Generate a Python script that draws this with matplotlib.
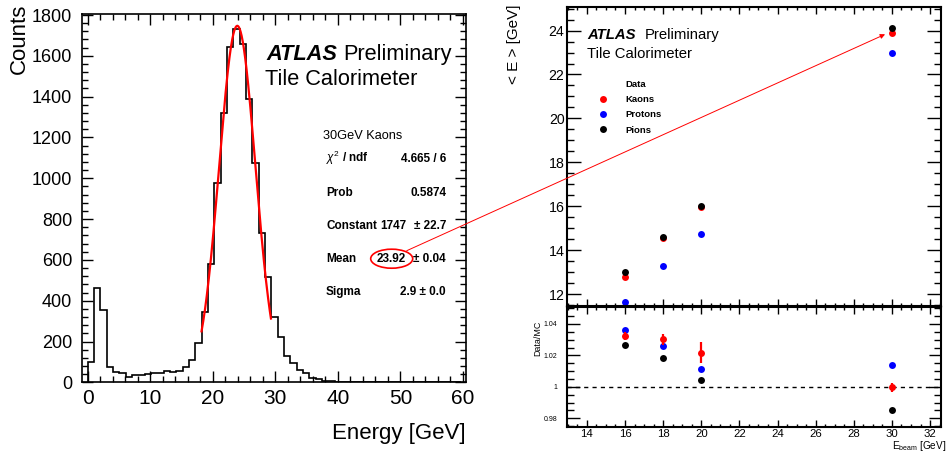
import numpy as np
import matplotlib
matplotlib.use('Agg')
import matplotlib.pyplot as plt
from matplotlib.patches import Ellipse, ConnectionPatch
from matplotlib.lines import Line2D
from matplotlib.ticker import MultipleLocator

plt.rcParams['font.family'] = ['Liberation Sans', 'DejaVu Sans']
plt.rcParams['mathtext.fontset'] = 'custom'
plt.rcParams['mathtext.rm'] = 'Liberation Sans'
plt.rcParams['mathtext.it'] = 'Liberation Sans:italic'
plt.rcParams['mathtext.bf'] = 'Liberation Sans:bold'

# energy histogram, 30 GeV kaons
bin_width = 1.013
counts = [100, 460, 355, 77, 49, 44, 28, 38, 36, 41, 47, 47, 54, 51, 57, 74,
          108, 195, 344, 579, 975, 1319, 1643, 1729, 1656, 1386, 1075, 731,
          517, 319, 224, 131, 93, 61, 47, 23, 15, 8, 5, 2, 1]
counts = counts + [0] * (59 - len(counts))

# gaussian fit result
fit_const = 1747
fit_mean = 23.92
fit_sigma = 2.9
fit_range = (18.2, 29.3)

# mean energy vs beam energy
ebeam = [16, 18, 20, 30]
e_kaons = [12.77, 14.53, 15.98, 23.91]
e_protons = [11.64, 13.28, 14.72, 22.97]
e_pions = [13.02, 14.58, 16.00, 24.10]

# data / MC
r_kaons = [1.0325, 1.0302, 1.0217, 0.9996]
r_kaons_err = [0.0025, 0.0037, 0.0066, 0.0026]
r_protons = [1.0363, 1.0257, 1.0111, 1.0136]
r_pions = [1.0268, 1.0181, 1.0041, 0.9852]

fig = plt.figure(figsize=(9.47, 4.54), dpi=100)

# ---------------- left: histogram ----------------
ax1 = fig.add_axes([0.0863, 0.1579, 0.4058, 0.8113])
edges = np.arange(len(counts) + 1) * bin_width
ax1.stairs(counts, edges, color='black', lw=1.2)
xf = np.linspace(fit_range[0], fit_range[1], 200)
ax1.plot(xf, fit_const * np.exp(-0.5 * ((xf - fit_mean) / fit_sigma) ** 2), color='red', lw=1.6)
ax1.set_xlim(-0.96, 60.5)
ax1.set_ylim(0, 1805)
ax1.xaxis.set_major_locator(MultipleLocator(10))
ax1.xaxis.set_minor_locator(MultipleLocator(2))
ax1.yaxis.set_major_locator(MultipleLocator(200))
ax1.yaxis.set_minor_locator(MultipleLocator(40))
ax1.tick_params(which='both', direction='in', top=True, right=True, width=1)
ax1.tick_params(which='major', length=7.7)
ax1.tick_params(which='minor', length=4)
ax1.tick_params(axis='x', labelsize=15, pad=5)
ax1.tick_params(axis='y', labelsize=13, pad=7)
for s in ax1.spines.values():
    s.set_linewidth(1.2)

fig.text(19 / 947, 1 - 4 / 454, 'Counts', rotation=90, ha='center', va='top', fontsize=16)
fig.text(466 / 947, 1 - 434 / 454, 'Energy [GeV]', ha='right', va='center', fontsize=16)

ax1.text(0.4814, 0.875, 'ATLAS', transform=ax1.transAxes, fontsize=15.7,
         fontweight='bold', fontstyle='italic', va='baseline')
ax1.text(0.680, 0.875, 'Preliminary', transform=ax1.transAxes, fontsize=15.7, va='baseline')
ax1.text(0.477, 0.807, 'Tile Calorimeter', transform=ax1.transAxes, fontsize=15.7, va='baseline')

# fit statistics
xl, xr = 0.6357, 0.948
ax1.text(0.6287, 0.6614, '30GeV Kaons', transform=ax1.transAxes, fontsize=9.2, va='baseline')
rows = [
    (0.5973, r'$\chi^2$ / ndf', '4.665 / 6'),
    (0.5058, 'Prob', '0.5874'),
    (0.4154, 'Constant', u'\u00b1 22.7'),
    (0.3258, 'Mean', u'\u00b1 0.04'),
    (0.2378, 'Sigma', u'%.1f \u00b1 0.0' % fit_sigma),
]
for y, name, val in rows:
    ax1.text(xl, y, name, transform=ax1.transAxes, fontsize=8.5, fontweight='bold', va='baseline')
    ax1.text(xr, y, val, transform=ax1.transAxes, fontsize=8.5, fontweight='bold', va='baseline', ha='right')
ax1.text(0.778, 0.4154, str(fit_const), transform=ax1.transAxes, fontsize=8.5, fontweight='bold', va='baseline')
ax1.text(0.8066, 0.3258, '%.2f' % fit_mean, transform=ax1.transAxes, fontsize=8.5, fontweight='bold',
         va='baseline', ha='center')
ax1.add_patch(Ellipse((0.8066, 0.3356), 0.1093, 0.0516, transform=ax1.transAxes,
                      fill=False, edgecolor='red', lw=1.2))

# ---------------- right top: <E> vs Ebeam ----------------
ax2 = fig.add_axes([0.599, 0.3267, 0.3946, 0.6572])
ax3 = fig.add_axes([0.599, 0.0601, 0.3946, 0.2630], sharex=ax2)

ms = 5
ax2.plot(ebeam, e_protons, 'o', color='blue', ms=ms, mec='none')
ax2.plot(ebeam, e_kaons, 'o', color='red', ms=ms, mec='none')
ax2.plot(ebeam, e_pions, 'o', color='black', ms=ms, mec='none')
ax2.set_xlim(12.97, 32.57)
ax2.set_ylim(11.47, 25.06)
ax2.xaxis.set_major_locator(MultipleLocator(2))
ax2.xaxis.set_minor_locator(MultipleLocator(0.5))
ax2.yaxis.set_major_locator(MultipleLocator(2))
ax2.yaxis.set_minor_locator(MultipleLocator(0.5))
ax2.tick_params(which='both', direction='in', top=True, right=True, width=1)
ax2.tick_params(axis='y', which='major', length=10)
ax2.tick_params(axis='y', which='minor', length=5)
ax2.tick_params(axis='x', which='major', length=5)
ax2.tick_params(axis='x', which='minor', length=2.5)
ax2.tick_params(axis='y', labelsize=10.2, pad=2)
ax2.tick_params(axis='x', labelbottom=False)
for s in ax2.spines.values():
    s.set_linewidth(1.5)

ax2.text(0.0527, 0.8928, 'ATLAS', transform=ax2.transAxes, fontsize=10.7,
         fontweight='bold', fontstyle='italic', va='baseline')
ax2.text(0.208, 0.8928, 'Preliminary', transform=ax2.transAxes, fontsize=10.7, va='baseline')
ax2.text(0.0527, 0.829, 'Tile Calorimeter', transform=ax2.transAxes, fontsize=10.7, va='baseline')

handles = [Line2D([], [], ls='none'),
           Line2D([], [], ls='none', marker='o', color='red', ms=ms, mec='none'),
           Line2D([], [], ls='none', marker='o', color='blue', ms=ms, mec='none'),
           Line2D([], [], ls='none', marker='o', color='black', ms=ms, mec='none')]
ax2.legend(handles, ['Data', 'Kaons', 'Protons', 'Pions'], loc='upper left',
           bbox_to_anchor=(0.0747, 0.756), frameon=False, borderpad=0, borderaxespad=0,
           handlelength=1.6, handletextpad=1.6, labelspacing=0.65,
           prop={'size': 6.8, 'weight': 'bold'})

fig.text(514 / 947, 1 - 4 / 454, '< E > [GeV]', rotation=90, ha='center', va='top', fontsize=11)

# ---------------- right bottom: Data/MC ----------------
ax3.axhline(1.0, color='black', lw=1, ls=(0, (3, 3)))
ax3.plot(ebeam, r_protons, 'o', color='blue', ms=ms, mec='none')
ax3.errorbar(ebeam, r_kaons, yerr=r_kaons_err, fmt='o', color='red', ms=ms, mec='none',
             elinewidth=1.6, capsize=0)
ax3.plot(ebeam, r_pions, 'o', color='black', ms=ms, mec='none')
ax3.set_ylim(0.9746, 1.0506)
ax3.yaxis.set_major_locator(MultipleLocator(0.02))
ax3.yaxis.set_minor_locator(MultipleLocator(0.005))
ax3.yaxis.set_major_formatter(matplotlib.ticker.FuncFormatter(lambda v, p: ('%.2f' % v).rstrip('0').rstrip('.')))
ax3.tick_params(which='both', direction='in', top=True, right=True, width=1)
ax3.tick_params(axis='y', which='major', length=9)
ax3.tick_params(axis='y', which='minor', length=5)
ax3.tick_params(axis='x', which='major', length=5)
ax3.tick_params(axis='x', which='minor', length=2.5)
ax3.tick_params(axis='y', labelsize=5, pad=7)
ax3.tick_params(axis='x', labelsize=8.2, pad=1.5)
for s in ax3.spines.values():
    s.set_linewidth(1.5)

fig.text(538 / 947, 1 - 321 / 454, 'Data/MC', rotation=90, ha='center', va='top', fontsize=6.4)
fig.text(946 / 947, 1 - 449 / 454, r'E$_{\rm beam}$ [GeV]', ha='right', va='baseline', fontsize=7.2)

# arrow from fitted mean to the 30 GeV point
arrow = ConnectionPatch(xyA=(0.8457, 0.3573), coordsA=ax1.transAxes,
                        xyB=(29.64, 23.83), coordsB=ax2.transData,
                        arrowstyle='-|>', mutation_scale=7, color='red', lw=0.7)
fig.add_artist(arrow)

fig.savefig('out.png', dpi=100)
